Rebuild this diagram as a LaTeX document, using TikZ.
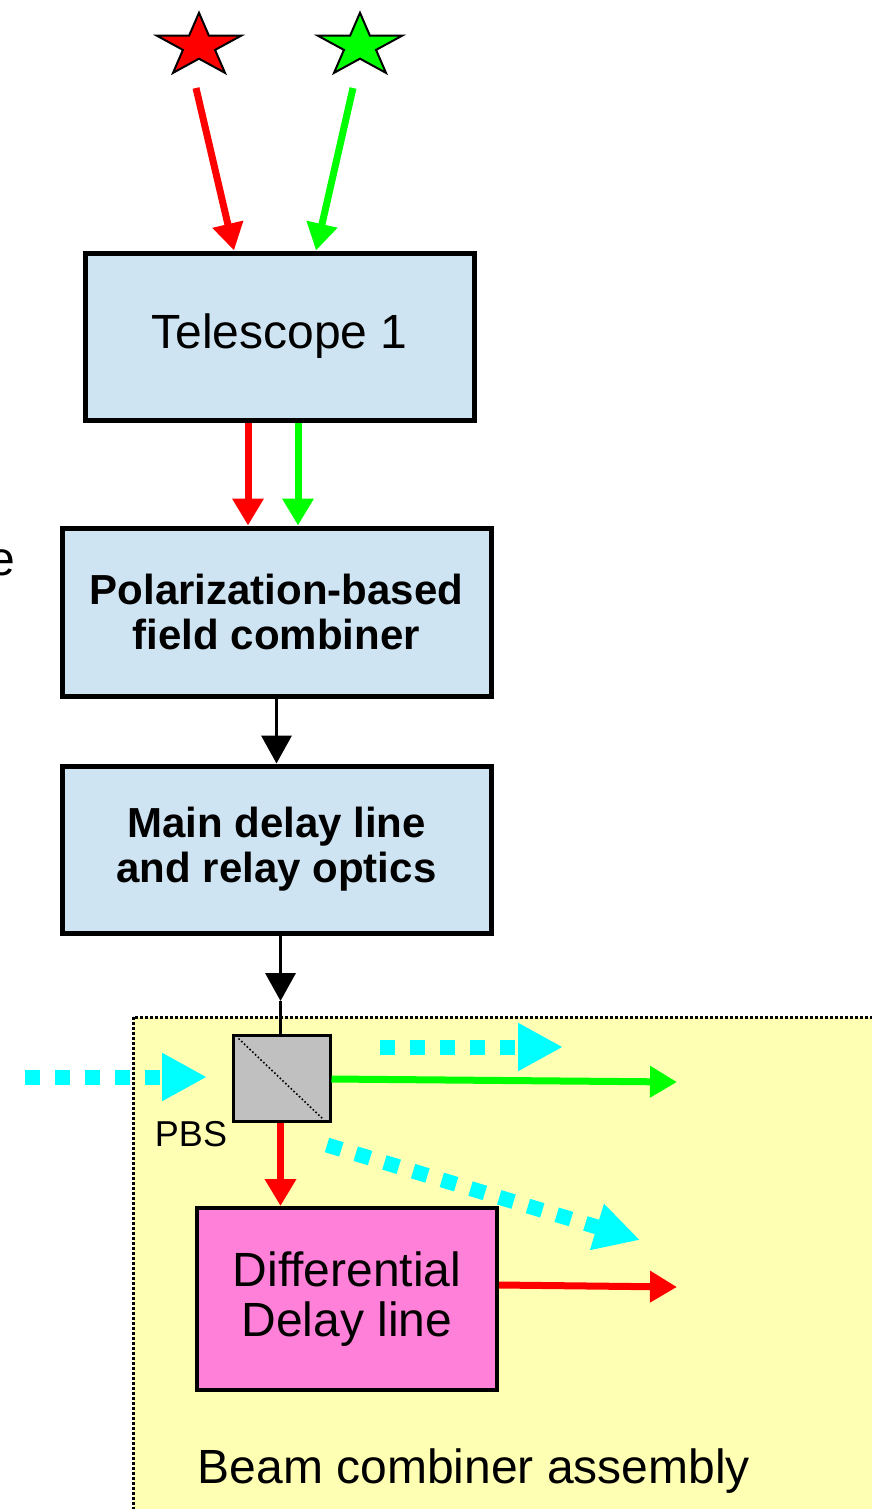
\documentclass[tikz,border=0pt]{standalone}
\usepackage{fontspec}
\setmainfont{Liberation Sans}
\usetikzlibrary{arrows.meta,calc}
\definecolor{boxblue}{RGB}{207,228,242}
\definecolor{bcyellow}{RGB}{255,255,180}
\definecolor{ddpink}{RGB}{255,128,216}
\definecolor{pbsgray}{RGB}{192,192,192}
\definecolor{beamred}{RGB}{255,0,0}
\definecolor{beamgreen}{RGB}{0,255,0}
\definecolor{beamcyan}{RGB}{0,255,255}
\tikzset{
  bigtext/.style={font=\fontsize{48}{50}\selectfont},
  boldtext/.style={font=\fontsize{42}{45}\selectfont\bfseries},
  bluebox/.style={draw=black, line width=5pt, fill=boxblue, align=center, inner sep=0pt},
  beam/.style={line width=7pt, -{Triangle[length=27pt,width=30pt]}},
  redbeam/.style={beam, draw=beamred, fill=beamred},
  greenbeam/.style={beam, draw=beamgreen, fill=beamgreen},
  blackarr/.style={line width=3.5pt, draw=black, -{Triangle[length=28pt,width=30pt]}},
  cyanbeam/.style={line width=15pt, draw=beamcyan, dash pattern=on 15pt off 15pt, -{Triangle[length=45pt,width=45pt,fill=beamcyan]}},
  starshape/.style={draw=black, line width=2pt, line join=miter},
}
\newcommand{\starpath}[2]{%
  \begin{scope}[shift={#1}, x=44.2pt, y=33.2pt]
    \draw[starshape, fill=#2] (90:1) -- (126:.382) -- (162:1) -- (198:.382) -- (234:1) -- (270:.382) -- (306:1) -- (342:.382) -- (18:1) -- (54:.382) -- cycle;
  \end{scope}}
\begin{document}
\begin{tikzpicture}[x=1pt,y=-1pt]
\useasboundingbox (0,0) rectangle (872,1509);
\clip (0,0) rectangle (872,1509);
\fill[white] (0,0) rectangle (872,1509);

% beam combiner assembly area
\draw[fill=bcyellow, line width=3pt, dash pattern=on 3pt off 2pt] (133,1017) rectangle (900,1540);
\node[bigtext, anchor=base] (bca) at (474,1483) {Beam combiner assembly};

% partial text at left edge
\node[bigtext, anchor=base east, inner sep=0pt] (ecut) at (15,575) {e};

% stars
\coordinate (starR) at (199,46);
\coordinate (starG) at (360,46);
\starpath{(starR)}{beamred}
\starpath{(starG)}{beamgreen}

% boxes
\node[bluebox, bigtext, minimum width=389pt, minimum height=167pt] (tel) at (279.5,336.5) {\raisebox{-4pt}{Telescope 1}};
\node[bluebox, boldtext, minimum width=429pt, minimum height=168pt] (pol) at (276.5,612) {Polarization-based\\field combiner};
\node[bluebox, boldtext, minimum width=429pt, minimum height=167pt] (mdl) at (276.5,849.5) {Main delay line\\and relay optics};
\node[draw=black, line width=3pt, fill=pbsgray, minimum width=97pt, minimum height=86pt, inner sep=0pt] (pbs) at (281.5,1078) {};
\node[draw=black, line width=4pt, fill=ddpink, bigtext, align=center, minimum width=300pt, minimum height=182pt, inner sep=0pt] (ddl) at (347,1299) {Differential\\Delay line};
\node[font=\fontsize{36}{40}\selectfont, inner sep=0pt] (pbslabel) at (191,1134) {PBS};

% PBS diagonal
\draw[line width=1.6pt, dash pattern=on 1.6pt off 2.2pt] ([shift={(7pt,-5pt)}]pbs.north west) -- ([shift={(-8pt,3pt)}]pbs.south east);

% star beams into telescope
\coordinate (rs) at (196,88);
\coordinate (gs) at (353,88);
\draw[redbeam] (rs) -- ([xshift=-45.5pt]tel.north);
\draw[greenbeam] (gs) -- ([xshift=36.5pt]tel.north);

% telescope to combiner
\draw[redbeam] ([xshift=-31.5pt]tel.south) -- ([xshift=-31.5pt]tel.south |- pol.north);
\draw[greenbeam] ([xshift=18.5pt]tel.south) -- ([xshift=18.5pt]tel.south |- pol.north);

% combiner to main delay line
\draw[blackarr] (pol.south) -- (mdl.north);

% main delay line to PBS
\coordinate (mj) at (280.5,1001);
\draw[blackarr] (mdl.south -| mj) -- (mj);
\draw[line width=3.5pt] (mj) -- (pbs.north -| mj);

% cyan beams
\coordinate (cl1) at (25,1077);
\coordinate (cl2) at (207,1077);
\draw[cyanbeam] (cl1) -- (cl2);
\coordinate (ct1) at (380,1047);
\coordinate (ct2) at (563,1047);
\draw[cyanbeam] (ct1) -- (ct2);
\coordinate (cd1) at (327,1145);
\coordinate (cd2) at (640,1240);
\draw[cyanbeam] (cd1) -- (cd2);

% outputs
\coordinate (gout) at (677,1082);
\draw[greenbeam] ([yshift=-1pt]pbs.east) -- (gout);
\coordinate (rdtop) at (pbs.south -| mj);
\coordinate (rdbot) at (ddl.north -| mj);
\draw[redbeam] (rdtop) -- (rdbot);
\coordinate (rout) at (677,1287);
\draw[redbeam] ([yshift=14pt]ddl.east) -- (rout);
\end{tikzpicture}
\end{document}
